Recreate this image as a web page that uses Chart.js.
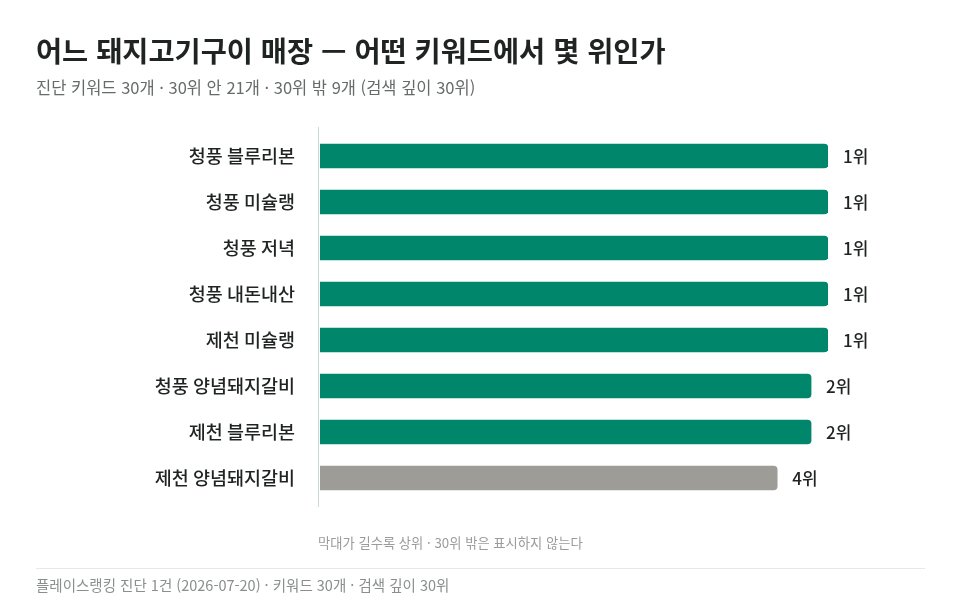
<!DOCTYPE html>
<html lang="ko">
<head>
    <meta charset="UTF-8">
    <title>어느 돼지고기구이 매장 — 어떤 키워드에서 몇 위인가</title>
    <script src="https://cdn.jsdelivr.net/npm/chart.js@4.4.1/dist/chart.umd.min.js"></script>
    <style>
        html, body { margin: 0; padding: 0; background: #fff; }
        body { width: 960px; height: 615px; position: relative; overflow: hidden;
               font-family: 'Noto Sans CJK KR', 'Noto Sans', sans-serif; }
        #wrap { position: absolute; left: 0; top: 0; width: 960px; height: 615px; }
        .txt { position: absolute; white-space: nowrap; line-height: 1; }
        #title { left: 36px; top: 36px; font-size: 28.4px; font-weight: bold; color: #1f2422; }
        #sub { left: 36px; top: 79px; font-size: 16.5px; color: #666b69; }
        #note { left: 318px; top: 536px; font-size: 13.3px; color: #999c9b; }
        #rule { position: absolute; left: 36px; top: 568px; width: 889px; height: 1px; background: #e4eae9; }
        #foot { left: 36px; top: 578px; font-size: 14.5px; color: #8a8e8d; }
    </style>
</head>
<body>
    <div id="wrap"><canvas id="myChart" width="960" height="615"></canvas></div>
    <div class="txt" id="title">어느 돼지고기구이 매장 — 어떤 키워드에서 몇 위인가</div>
    <div class="txt" id="sub">진단 키워드 30개 · 30위 안 21개 · 30위 밖 9개 (검색 깊이 30위)</div>
    <div class="txt" id="note">막대가 길수록 상위 · 30위 밖은 표시하지 않는다</div>
    <div id="rule"></div>
    <div class="txt" id="foot">플레이스랭킹 진단 1건 (2026-07-20) · 키워드 30개 · 검색 깊이 30위</div>
    <script>
        // keywords (top to bottom)
        const keywords = ['청풍 블루리본', '청풍 미슐랭', '청풍 저녁', '청풍 내돈내산', '제천 미슐랭',
                          '청풍 양념돼지갈비', '제천 블루리본', '제천 양념돼지갈비'];
        // rank found in search
        const ranks = [1, 1, 1, 1, 1, 2, 2, 4];
        // bar length: higher rank = longer bar (depth 30)
        const barScores = [30, 30, 30, 30, 30, 29, 29, 27];
        const searchDepth = 30;

        const GREEN = '#00866a';
        const GRAY = '#9e9c96';
        const FONT = "'Noto Sans CJK KR', 'Noto Sans', sans-serif";

        // left axis line, a bit taller than the bars
        const axisLine = {
            id: 'axisLine',
            beforeDatasetsDraw(chart) {
                const {ctx, chartArea} = chart;
                ctx.save();
                ctx.strokeStyle = '#cbd9d6';
                ctx.lineWidth = 1;
                ctx.beginPath();
                ctx.moveTo(chartArea.left - 1.5, chartArea.top - 6);
                ctx.lineTo(chartArea.left - 1.5, chartArea.bottom + 6);
                ctx.stroke();
                ctx.restore();
            }
        };

        // "N위" at the end of each bar
        const rankLabels = {
            id: 'rankLabels',
            afterDatasetsDraw(chart) {
                const {ctx} = chart;
                const meta = chart.getDatasetMeta(0);
                ctx.save();
                ctx.font = '500 17px ' + FONT;
                ctx.fillStyle = '#1f2422';
                ctx.textAlign = 'left';
                ctx.textBaseline = 'middle';
                meta.data.forEach((bar, i) => {
                    ctx.fillText(ranks[i] + '위', bar.x + 15, bar.y + 1);
                });
                ctx.restore();
            }
        };

        const ctx = document.getElementById('myChart').getContext('2d');
        const myChart = new Chart(ctx, {
            type: 'bar',
            data: {
                labels: keywords,
                datasets: [{
                    data: barScores,
                    backgroundColor: ranks.map(r => r <= 3 ? GREEN : GRAY),
                    barThickness: 24,
                    borderRadius: 4,
                    borderSkipped: 'start'
                }]
            },
            options: {
                indexAxis: 'y',
                responsive: false,
                animation: false,
                layout: { padding: { left: 0, right: 132, top: 133, bottom: 114 } },
                plugins: {
                    legend: { display: false },
                    tooltip: { enabled: false }
                },
                scales: {
                    x: { display: false, min: 0, max: searchDepth },
                    y: {
                        grid: { display: false },
                        border: { display: false },
                        ticks: {
                            padding: 17,
                            color: '#1f2422',
                            font: { family: FONT, size: 18.5, weight: '500' }
                        },
                        afterFit(scale) { scale.width = 320; }
                    }
                }
            },
            plugins: [axisLine, rankLabels]
        });
    </script>
</body>
</html>
